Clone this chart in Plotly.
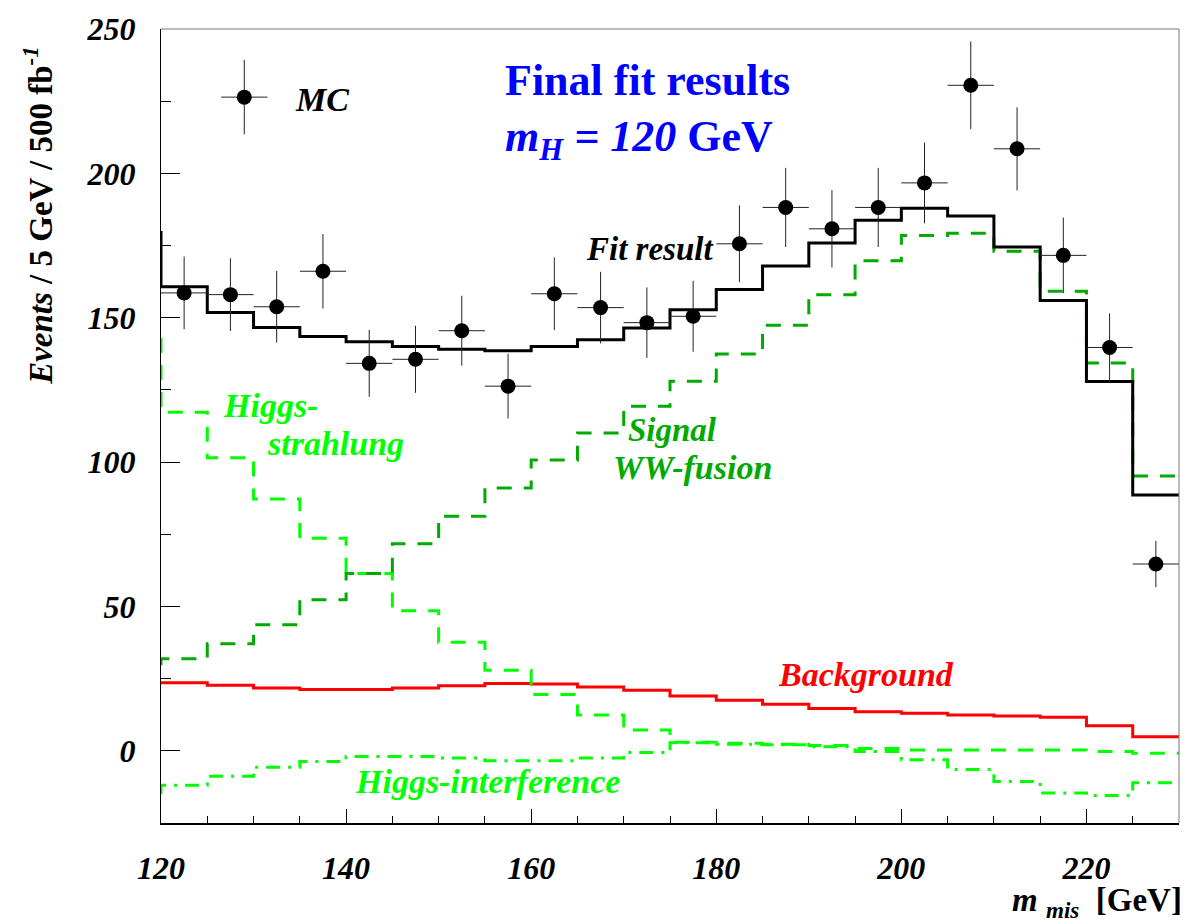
import plotly.graph_objects as go

# ---------------- data ----------------
EDGES = [120, 125, 130, 135, 140, 145, 150, 155, 160, 165, 170, 175,
         180, 185, 190, 195, 200, 205, 210, 215, 220, 225, 230]
CENTERS = [122.5, 127.5, 132.5, 137.5, 142.5, 147.5, 152.5, 157.5, 162.5, 167.5, 172.5,
           177.5, 182.5, 187.5, 192.5, 197.5, 202.5, 207.5, 212.5, 217.5, 222.5, 227.5]

MC = [158.6, 158.0, 153.8, 166.1, 134.2, 135.6, 145.5, 126.3, 158.3, 153.5, 148.3,
      150.5, 175.6, 188.2, 180.8, 188.2, 196.7, 230.5, 208.5, 171.6, 139.7, 64.7]
MC_ERR = [12.6, 12.6, 12.4, 12.9, 11.6, 11.6, 12.1, 11.2, 12.6, 12.4, 12.2,
          12.3, 13.3, 13.7, 13.4, 13.7, 14.0, 15.2, 14.4, 13.1, 11.8, 8.0]

FIT = [160.7, 151.8, 146.6, 143.5, 141.7, 140.0, 139.1, 138.6, 140.0, 142.4, 146.4,
       152.8, 159.8, 167.9, 175.9, 183.8, 187.9, 185.2, 174.5, 156.0, 127.9, 88.6]
FIT_PREV = 180.0

WW_FUSION = [31.9, 37.1, 43.7, 52.3, 61.4, 71.7, 81.2, 91.0, 100.7, 110.1, 119.3,
             128.0, 137.4, 147.4, 158.0, 169.7, 178.5, 179.3, 173.0, 159.2, 134.3, 95.2]
WW_PREV = 29.6

HIGGSSTRAHLUNG = [117.3, 101.5, 87.2, 73.6, 61.4, 48.5, 37.6, 27.9, 19.5, 12.4, 7.2,
                  3.0, 2.6, 2.3, 1.8, 0.8, 0.3, 0.3, 0.3, 0.3, -0.2, -0.8]
HS_PREV = 143.0

INTERFERENCE = [-11.9, -8.8, -5.7, -3.7, -2.0, -2.0, -2.5, -3.4, -3.4, -2.5, -0.6,
                2.8, 2.3, 2.1, 1.4, -0.2, -3.1, -6.5, -10.6, -14.6, -15.5, -11.1]
INT_PREV = -15.0

BACKGROUND = [23.6, 22.7, 21.8, 21.2, 21.2, 21.8, 22.5, 23.3, 23.1, 22.1, 21.0,
              19.0, 17.5, 16.1, 14.7, 13.5, 13.0, 12.4, 12.1, 11.6, 8.7, 4.9]

LEGEND_MC_X = 129.0
LEGEND_MC_Y = 226.4
LEGEND_MC_ERR = 12.9

X_TICKS = [120, 140, 160, 180, 200, 220]
Y_TICKS = [0, 50, 100, 150, 200, 250]

# ---------------- layout geometry ----------------
W, H = 1190, 924
ML, MR, MT, MB = 161, 11, 24, 101
PW, PH = W - ML - MR, H - MT - MB

def px(xp, yp):
    return (xp - ML) / PW, (H - MB - yp) / PH

FONT = "Liberation Serif"
BLUE = "#0000FF"
LGREEN = "#00FF00"
DGREEN = "#00AA00"
RED = "#FF0000"


def step(vals, prev=None):
    if prev is None:
        return EDGES, vals + [vals[-1]]
    return [EDGES[0]] + EDGES, [prev] + vals + [vals[-1]]


fig = go.Figure()

x, y = step(BACKGROUND)
fig.add_trace(go.Scatter(x=x, y=y, mode="lines", line=dict(shape="hv", color=RED, width=3)))
x, y = step(INTERFERENCE, INT_PREV)
fig.add_trace(go.Scatter(x=x, y=y, mode="lines",
                         line=dict(shape="hv", color=LGREEN, width=3, dash="14px,8px,3px,8px")))
x, y = step(HIGGSSTRAHLUNG, HS_PREV)
fig.add_trace(go.Scatter(x=x, y=y, mode="lines",
                         line=dict(shape="hv", color=LGREEN, width=3, dash="15px,12px")))
x, y = step(WW_FUSION, WW_PREV)
fig.add_trace(go.Scatter(x=x, y=y, mode="lines",
                         line=dict(shape="hv", color=DGREEN, width=3, dash="15px,12px")))
x, y = step(FIT, FIT_PREV)
fig.add_trace(go.Scatter(x=x, y=y, mode="lines", line=dict(shape="hv", color="black", width=3)))

fig.add_trace(go.Scatter(
    x=CENTERS, y=MC, mode="markers",
    marker=dict(symbol="circle", size=15, color="black"),
    error_x=dict(type="constant", value=2.5, thickness=1, width=0, color="#222222"),
    error_y=dict(type="data", array=MC_ERR, thickness=1, width=0, color="#222222"),
))
# legend sample for MC
fig.add_trace(go.Scatter(
    x=[LEGEND_MC_X], y=[LEGEND_MC_Y], mode="markers",
    marker=dict(symbol="circle", size=15, color="black"),
    error_x=dict(type="constant", value=2.5, thickness=1, width=0, color="#222222"),
    error_y=dict(type="constant", value=LEGEND_MC_ERR, thickness=1, width=0, color="#222222"),
))

def ann(text, xp, yp, size, color, xanchor="left", italic=True, angle=0, yanchor="middle"):
    ax, ay = px(xp, yp)
    fig.add_annotation(
        x=ax, y=ay, xref="paper", yref="paper", text=text, showarrow=False,
        xanchor=xanchor, yanchor=yanchor, textangle=angle,
        font=dict(family=FONT, size=size, color=color, weight="bold",
                  style="italic" if italic else "normal"),
    )

ann("MC", 293, 95, 34, "black")
ann("Final fit results", 503, 76, 44, BLUE, italic=False)
ann("<i>m<sub>H</sub> = 120</i> GeV", 503, 135, 44, BLUE, italic=False)
ann("Fit result", 584, 245, 33, "black")
ann("Higgs-", 221, 403, 34, LGREEN)
ann("strahlung", 265, 441, 34, LGREEN)
ann("Signal", 626, 428, 33, DGREEN)
ann("WW-fusion", 611, 465, 34, DGREEN)
ann("Background", 776, 674, 34, RED)
ann("Higgs-interference", 353, 781, 34, LGREEN)
ann("<i>Events</i> / 5 GeV / 500 fb<sup><i>-1</i></sup>", 38, 212, 33, "black",
    xanchor="center", italic=False, angle=-90)
ann("<i>m</i> <sub><i>mis</i></sub>  [GeV]", 1184, 903, 33, "black", xanchor="right", italic=False)

# gray frame (top and right)
fig.add_shape(type="line", xref="paper", yref="paper", x0=0, x1=1, y0=1, y1=1,
              line=dict(color="#777777", width=1))
fig.add_shape(type="line", xref="paper", yref="paper", x0=1, x1=1, y0=0, y1=1,
              line=dict(color="#777777", width=1))

tickfont = dict(family=FONT, size=32, color="black", weight="bold", style="italic")
fig.update_layout(
    width=W, height=H,
    margin=dict(l=ML, r=MR, t=MT, b=MB, pad=0),
    plot_bgcolor="white", paper_bgcolor="white",
    showlegend=False,
    xaxis=dict(range=[120, 230], tickmode="array", tickvals=X_TICKS,
               ticks="inside", ticklen=14, tickcolor="black", tickwidth=1,
               minor=dict(dtick=5, tick0=120, ticks="inside", ticklen=7, tickcolor="black"),
               showgrid=False, zeroline=False, showline=True, linecolor="black", linewidth=2,
               tickfont=tickfont, ticklabelstandoff=16),
    yaxis=dict(range=[-25, 250], tickmode="array", tickvals=Y_TICKS,
               ticks="inside", ticklen=19, tickcolor="black", tickwidth=1,
               minor=dict(dtick=25, tick0=0, ticks="inside", ticklen=10, tickcolor="black"),
               showgrid=False, zeroline=False, showline=True, linecolor="black", linewidth=1,
               tickfont=tickfont, ticklabelstandoff=18),
)

fig.write_html("out.html", config={"displayModeBar": False})
